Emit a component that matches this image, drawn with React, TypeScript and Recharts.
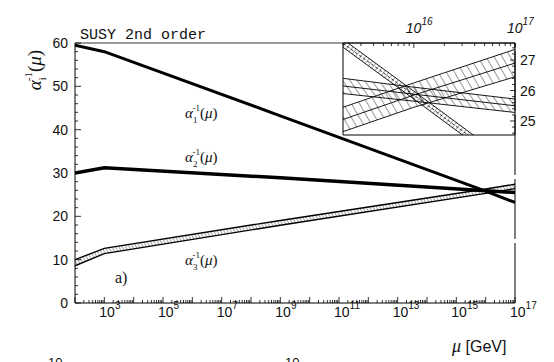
import React from 'react';
import { ComposedChart, Line, Area, XAxis, YAxis, ReferenceLine } from 'recharts';

// exponents of mu [GeV] and inverse couplings
const muExp = [2, 3, 9, 16, 17];
const alpha1Inv = [59.5, 58.0, 43.2, 25.8, 23.2];
const alpha2Inv = [30.0, 31.2, 28.9, 25.9, 25.5];
const alpha3Inv = [9.3, 12.0, 18.5, 25.8, 26.9];
const alpha3Err = [0.7, 0.6, 0.55, 0.5, 0.5];

// inset (zoom around the unification point)
const insetExp = [15.3, 16, 17];
const insetA1 = [27.55, 25.85, 23.4];
const insetA1Err = [0.13, 0.13, 0.13];
const insetA2 = [26.15, 25.88, 25.5];
const insetA2Err = [0.25, 0.23, 0.22];
const insetA3 = [25.05, 25.85, 26.9];
const insetA3Err = [0.4, 0.4, 0.45];

const mainXLabels = [3, 5, 7, 9, 11, 13, 15, 17];
const mainYLabels = [0, 10, 20, 30, 40, 50, 60];
const insetXLabels = [16, 17];
const insetYLabels = [25, 26, 27];

const logTicks = (from: number, to: number) => {
  const t: number[] = [];
  for (let d = Math.floor(from); d < to; d++) {
    for (let k = 1; k < 10; k++) {
      const v = d + Math.log10(k);
      if (v >= from - 1e-9 && v <= to + 1e-9) t.push(v);
    }
  }
  t.push(to);
  return t;
};

const mainXTicks = logTicks(2, 17);
const mainYTicks = Array.from({ length: 31 }, (_, i) => i * 2);
const insetXTicks = logTicks(15.3, 17);
const insetYTicks = Array.from({ length: 15 }, (_, i) => +(24.6 + i * 0.2).toFixed(1));

const mainData = muExp.map((x, i) => ({
  x,
  a1: alpha1Inv[i],
  a2: alpha2Inv[i],
  a3: [alpha3Inv[i] - alpha3Err[i], alpha3Inv[i] + alpha3Err[i]],
}));

const insetData = insetExp.map((x, i) => ({
  x,
  a1: [insetA1[i] - insetA1Err[i], insetA1[i] + insetA1Err[i]],
  a1c: insetA1[i],
  a2: [insetA2[i] - insetA2Err[i], insetA2[i] + insetA2Err[i]],
  a2c: insetA2[i],
  a3: [insetA3[i] - insetA3Err[i], insetA3[i] + insetA3Err[i]],
  a3c: insetA3[i],
}));

const SANS = 'Liberation Sans, Arial, sans-serif';
const SERIF = 'Liberation Serif, Times New Roman, serif';

const isInt = (v: number) => Math.abs(v - Math.round(v)) < 1e-6;

const Pow10 = ({ x, y, e, size = 14, italic = false }: any) => (
  <text x={x} y={y} fontFamily={SANS} fontSize={size} fill="#111" fontStyle={italic ? 'italic' : 'normal'}>
    10<tspan fontSize={size * 0.72} dy={-size * 0.6}>{e}</tspan>
  </text>
);

const MainXTick = ({ x, y, payload }: any) => {
  const v = payload.value;
  const major = isInt(v);
  const r = Math.round(v);
  return (
    <g>
      <line x1={x} x2={x} y1={y} y2={y - (major ? 6 : 3)} stroke="#000" strokeWidth={0.8} />
      {major && mainXLabels.includes(r) && <Pow10 x={x - 5} y={y + 14} e={r} />}
    </g>
  );
};

const MainYTick = ({ x, y, payload }: any) => {
  const v = payload.value;
  const major = mainYLabels.includes(v);
  return (
    <g>
      <line x1={x} x2={x + (major ? 6 : 3)} y1={y} y2={y} stroke="#000" strokeWidth={0.8} />
      {major && (
        <text x={x - 7} y={y + 5} textAnchor="end" fontFamily={SANS} fontSize={14} fill="#111">
          {v}
        </text>
      )}
    </g>
  );
};

const InsetTopTick = ({ x, y, payload }: any) => {
  const v = payload.value;
  const major = isInt(v);
  const r = Math.round(v);
  return (
    <g>
      <line x1={x} x2={x} y1={y} y2={y + (major ? 5 : 3)} stroke="#000" strokeWidth={0.8} />
      {major && insetXLabels.includes(r) && <Pow10 x={x - 8} y={y - 10} e={r} italic />}
    </g>
  );
};

const InsetBottomTick = ({ x, y, payload }: any) => {
  const major = isInt(payload.value);
  return <line x1={x} x2={x} y1={y} y2={y - (major ? 5 : 3)} stroke="#000" strokeWidth={0.8} />;
};

const InsetRightTick = ({ x, y, payload }: any) => {
  const v = payload.value;
  const major = insetYLabels.includes(v);
  return (
    <g>
      <line x1={x} x2={x - (major ? 5 : 3)} y1={y} y2={y} stroke="#000" strokeWidth={0.8} />
      {major && (
        <text x={x + 5} y={y + 5} fontFamily={SANS} fontSize={14} fill="#111">
          {v}
        </text>
      )}
    </g>
  );
};

const InsetLeftTick = ({ x, y, payload }: any) => {
  const major = insetYLabels.includes(payload.value);
  return <line x1={x} x2={x + (major ? 5 : 3)} y1={y} y2={y} stroke="#000" strokeWidth={0.8} />;
};

const Hatch = ({ id, gap, angle, w = 0.8 }: any) => (
  <pattern id={id} patternUnits="userSpaceOnUse" width={gap} height={gap} patternTransform={`rotate(${angle})`}>
    <line x1={0} y1={0} x2={0} y2={gap} stroke="#000" strokeWidth={w} />
  </pattern>
);

const AlphaLabel = ({ x, y, idx, size = 15 }: any) => (
  <text x={x} y={y} fontFamily={SERIF} fontSize={size} fill="#111">
    <tspan fontStyle="italic">α</tspan>
    <tspan fontSize={size * 0.6} dy={size * 0.3}>{idx}</tspan>
    <tspan fontSize={size * 0.6} dx={-size * 0.32} dy={-size * 0.75}>-1</tspan>
    <tspan dy={size * 0.45}>(</tspan>
    <tspan fontStyle="italic">μ</tspan>
    <tspan>)</tspan>
  </text>
);

const layer: React.CSSProperties = { position: 'absolute', left: 0, top: 0 };

const App: React.FC = () => {
  return (
    <div style={{ position: 'absolute', left: 0, top: 0, width: 554, height: 362, background: '#fff' }}>
      <div style={layer}>
        <ComposedChart width={554} height={362} data={mainData} margin={{ top: 43, right: 39, left: 35, bottom: 29 }}>
          <defs>
            <Hatch id="hatchMain" gap={3} angle={-30} w={0.7} />
          </defs>
          <XAxis
            dataKey="x"
            type="number"
            domain={[2, 17]}
            allowDataOverflow
            ticks={mainXTicks}
            interval={0}
            tick={(p: any) => <MainXTick {...p} />}
            tickLine={false}
            tickSize={0}
            tickMargin={0}
            axisLine={{ stroke: '#000', strokeWidth: 1.2 }}
            height={30}
          />
          <YAxis
            type="number"
            domain={[0, 60]}
            ticks={mainYTicks}
            interval={0}
            tick={(p: any) => <MainYTick {...p} />}
            tickLine={false}
            tickSize={0}
            tickMargin={0}
            axisLine={{ stroke: '#000', strokeWidth: 1 }}
            width={40}
          />
          <ReferenceLine y={60} stroke="#000" strokeWidth={0.8} />
          <ReferenceLine x={17} stroke="#000" strokeWidth={1} strokeDasharray="60 4" />
          <Area
            type="linear"
            dataKey="a3"
            stroke="#000"
            strokeWidth={1.4}
            fill="url(#hatchMain)"
            fillOpacity={1}
            dot={false}
            activeDot={false}
            isAnimationActive={false}
          />
          <Line type="linear" dataKey="a1" stroke="#000" strokeWidth={3} dot={false} activeDot={false} isAnimationActive={false} />
          <Line type="linear" dataKey="a2" stroke="#000" strokeWidth={3.5} dot={false} activeDot={false} isAnimationActive={false} />
        </ComposedChart>
      </div>

      <div style={{ ...layer, pointerEvents: 'none' }}>
        <ComposedChart width={554} height={362} data={insetData} margin={{ top: 23, right: 9, left: 343, bottom: 227 }}>
          <defs>
            <Hatch id="hatchA1" gap={4} angle={40} w={0.7} />
            <Hatch id="hatchA2" gap={6} angle={-35} w={0.8} />
            <Hatch id="hatchA3" gap={7} angle={-30} w={0.8} />
          </defs>
          <XAxis
            xAxisId="t"
            orientation="top"
            dataKey="x"
            type="number"
            domain={[15.3, 17]}
            allowDataOverflow
            ticks={insetXTicks}
            interval={0}
            tick={(p: any) => <InsetTopTick {...p} />}
            tickLine={false}
            tickSize={0}
            tickMargin={0}
            axisLine={{ stroke: '#000' }}
            height={20}
          />
          <XAxis
            xAxisId="b"
            orientation="bottom"
            dataKey="x"
            type="number"
            domain={[15.3, 17]}
            allowDataOverflow
            ticks={insetXTicks}
            interval={0}
            tick={(p: any) => <InsetBottomTick {...p} />}
            tickLine={false}
            tickSize={0}
            tickMargin={0}
            axisLine={{ stroke: '#000' }}
            height={0}
          />
          <YAxis
            yAxisId="r"
            orientation="right"
            type="number"
            domain={[24.54, 27.56]}
            allowDataOverflow
            ticks={insetYTicks}
            interval={0}
            tick={(p: any) => <InsetRightTick {...p} />}
            tickLine={false}
            tickSize={0}
            tickMargin={0}
            axisLine={{ stroke: '#000' }}
            width={30}
          />
          <YAxis
            yAxisId="l"
            orientation="left"
            type="number"
            domain={[24.54, 27.56]}
            allowDataOverflow
            ticks={insetYTicks}
            interval={0}
            tick={(p: any) => <InsetLeftTick {...p} />}
            tickLine={false}
            tickSize={0}
            tickMargin={0}
            axisLine={{ stroke: '#000' }}
            width={0}
          />
          <ReferenceLine xAxisId="t" yAxisId="r" x={15.3} stroke="#000" strokeWidth={1} />
          <ReferenceLine xAxisId="t" yAxisId="r" y={24.54} stroke="#000" strokeWidth={1} />
          <Area xAxisId="t" yAxisId="r" type="linear" dataKey="a3" stroke="#000" strokeWidth={0.9} fill="url(#hatchA3)" fillOpacity={1} dot={false} activeDot={false} isAnimationActive={false} />
          <Area xAxisId="t" yAxisId="r" type="linear" dataKey="a2" stroke="#000" strokeWidth={0.9} fill="url(#hatchA2)" fillOpacity={1} dot={false} activeDot={false} isAnimationActive={false} />
          <Area xAxisId="t" yAxisId="r" type="linear" dataKey="a1" stroke="#000" strokeWidth={0.9} fill="url(#hatchA1)" fillOpacity={1} dot={false} activeDot={false} isAnimationActive={false} />
          <Line xAxisId="t" yAxisId="r" type="linear" dataKey="a3c" stroke="#000" strokeWidth={0.9} dot={false} activeDot={false} isAnimationActive={false} />
          <Line xAxisId="t" yAxisId="r" type="linear" dataKey="a2c" stroke="#000" strokeWidth={0.9} dot={false} activeDot={false} isAnimationActive={false} />
          <Line xAxisId="t" yAxisId="r" type="linear" dataKey="a1c" stroke="#000" strokeWidth={0.8} strokeDasharray="3 2" dot={false} activeDot={false} isAnimationActive={false} />
        </ComposedChart>
      </div>

      <svg width={554} height={362} style={{ ...layer, pointerEvents: 'none' }}>
        <text x={80} y={39} fontFamily="Liberation Mono, Courier New, monospace" fontSize={15} fill="#111">
          SUSY 2nd order
        </text>
        <g transform="translate(41, 70) rotate(-90)">
          <text x={0} y={0} textAnchor="middle" fontFamily={SERIF} fontSize={19} fill="#111">
            <tspan fontStyle="italic">α</tspan>
            <tspan fontSize={11} dy={5}>i</tspan>
            <tspan fontSize={11} dx={-4} dy={-14}>-1</tspan>
            <tspan dy={9}>(</tspan>
            <tspan fontStyle="italic">μ</tspan>
            <tspan>)</tspan>
          </text>
        </g>
        <AlphaLabel x={185} y={118} idx={1} />
        <AlphaLabel x={185} y={162} idx={2} />
        <AlphaLabel x={185} y={265} idx={3} />
        <text x={115} y={283} fontFamily={SERIF} fontSize={16} fill="#111">a)</text>
        <text x={452} y={352} fontFamily={SANS} fontSize={16} fill="#111">
          <tspan fontFamily={SERIF} fontStyle="italic" fontSize={18}>μ</tspan> [GeV]
        </text>
        <text x={48} y={367} fontFamily={SANS} fontSize={13} fill="#111">10</text>
        <text x={285} y={367} fontFamily={SANS} fontSize={13} fill="#111">10</text>
      </svg>
    </div>
  );
};

export default App;
